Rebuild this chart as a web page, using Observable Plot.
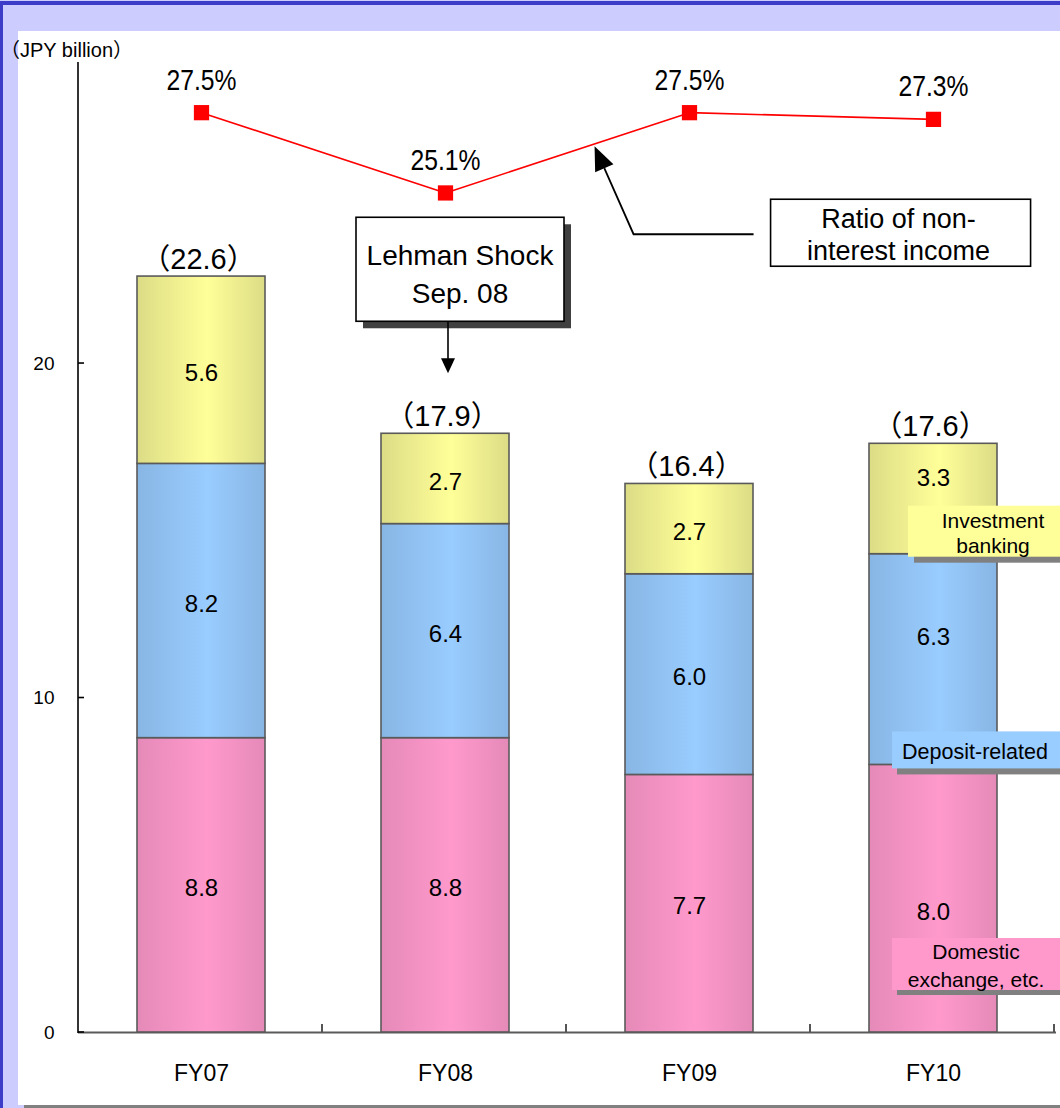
<!DOCTYPE html>
<html>
<head>
<meta charset="utf-8">
<script src="https://cdn.jsdelivr.net/npm/d3@7"></script>
<script src="https://cdn.jsdelivr.net/npm/@observablehq/plot@0.6"></script>
<style>
  html, body { margin: 0; padding: 0; background: #fff; }
  #page { position: relative; width: 1060px; height: 1108px; background: #ccccff; overflow: hidden; }
  #page .edge-top { position: absolute; left: 0; top: 1px; width: 1060px; height: 4px; background: #3c3cc8; }
  #page .edge-left { position: absolute; left: 0; top: 1px; width: 3px; height: 1107px; background: #3c3cc8; }
  #page .sheet { position: absolute; left: 18px; top: 31px; width: 1042px; height: 1074px; background: #fff; }
  #page .foot { position: absolute; left: 24px; top: 1105px; width: 1036px; height: 3px; background: #808080; }
  #chart svg { position: absolute; left: 0; top: 0; }
</style>
</head>
<body>
<div id="page">
  <div class="edge-top"></div>
  <div class="edge-left"></div>
  <div class="sheet"></div>
  <div class="foot"></div>
  <div id="chart"></div>
</div>
<script>
// Fee income by business line (JPY billion) and ratio of non-interest income (%)
const years = ["FY07", "FY08", "FY09", "FY10"];
const segments = ["Domestic exchange, etc.", "Deposit-related", "Investment banking"];
const domestic = [8.8, 8.8, 7.7, 8.0];
const deposit = [8.2, 6.4, 6.0, 6.3];
const investment = [5.6, 2.7, 2.7, 3.3];
const totals = [22.6, 17.9, 16.4, 17.6];
const ratio = [27.5, 25.1, 27.5, 27.3];
const yTicks = [0, 10, 20];

const rows = years.flatMap((year, i) => [
  {year, segment: segments[0], value: domestic[i]},
  {year, segment: segments[1], value: deposit[i]},
  {year, segment: segments[2], value: investment[i]}
]);
const totalRows = years.map((year, i) => ({year, total: totals[i]}));
const ratioRows = years.map((year, i) => ({year, ratio: ratio[i]}));

// FY10 segment labels are nudged to leave room for the series labels
const last = years.length - 1;
const lastYear = years[last];
const lastStack = [
  {year: lastYear, value: domestic[last], mid: domestic[last] / 2},
  {year: lastYear, value: deposit[last], mid: domestic[last] + deposit[last] / 2},
  {year: lastYear, value: investment[last], mid: domestic[last] + deposit[last] + investment[last] / 2}
];
const lastNudge = [14, -22, -21];

const font = `"Liberation Sans", Arial, "Noto Sans CJK JP", sans-serif`;

const chart = Plot.plot({
  width: 1060,
  height: 1108,
  marginLeft: 78,
  marginRight: 4,
  marginTop: 62,
  marginBottom: 76,
  style: {background: "transparent", fontFamily: font, color: "#000", overflow: "hidden"},
  x: {domain: years, paddingInner: 0.476, paddingOuter: 0.238},
  y: {domain: [0, 29]},
  color: {type: "ordinal", domain: segments, range: ["url(#fill-pink)", "url(#fill-blue)", "url(#fill-yellow)"]},
  marks: [
    Plot.axisY({ticks: yTicks, tickSize: 0, tickPadding: 24, fontSize: 19, label: null}),
    Plot.axisX({tickSize: 0, tickPadding: 32, fontSize: 23, label: null}),
    Plot.ruleY([0], {stroke: "#5a5a5a", strokeWidth: 2}),
    Plot.barY(rows, {x: "year", y: "value", fill: "segment", stroke: "#5a5a5a", strokeWidth: 1.6}),
    Plot.text(rows.filter(d => d.year !== lastYear),
      Plot.stackY({x: "year", y: "value", text: d => d.value.toFixed(1), fontSize: 24, dy: 3, fill: "#000"})),
    ...lastStack.map((d, k) => Plot.text([d], {x: "year", y: "mid", text: d => d.value.toFixed(1), fontSize: 24, dy: lastNudge[k], fill: "#000"})),
    Plot.text(totalRows, {x: "year", y: "total", text: d => `（${d.total.toFixed(1)}）`, lineAnchor: "bottom", dy: -8, fontSize: 29, dx: -3, fill: "#000"}),
    Plot.line(ratioRows, {x: "year", y: "ratio", stroke: "#ff0000", strokeWidth: 1.6}),
    Plot.dot(ratioRows, {x: "year", y: "ratio", symbol: "square", r: 8.6, fill: "#ff0000"}),
    Plot.text(ratioRows, {x: "year", y: "ratio", text: d => d.ratio.toFixed(1) + "%", lineAnchor: "bottom", dy: -23, fontSize: 30, fill: "#000", className: "pct-label"})
  ]
});

document.getElementById("chart").appendChild(chart);

const svg = d3.select(chart);
const sx = chart.scale("x"), sy = chart.scale("y");
const cx = c => sx.apply(c) + sx.bandwidth / 2;
const x0 = sx.range[0];
const y0 = sy.apply(0);

// Percentage labels are set in a condensed face
svg.selectAll(".pct-label text").attr("textLength", 70).attr("lengthAdjust", "spacingAndGlyphs");

// Cylindrical shading for the bar segments
const defs = svg.insert("defs", ":first-child");
[["fill-pink", "#e58ab8", "#ff99cc"], ["fill-blue", "#88b6e4", "#99ccff"], ["fill-yellow", "#dcdc86", "#ffff99"]]
  .forEach(([id, edge, mid]) => {
    const g = defs.append("linearGradient").attr("id", id)
      .attr("x1", 0).attr("x2", 1).attr("y1", 0).attr("y2", 0);
    g.append("stop").attr("offset", "0%").attr("stop-color", edge);
    g.append("stop").attr("offset", "55%").attr("stop-color", mid);
    g.append("stop").attr("offset", "100%").attr("stop-color", edge);
  });

const layer = svg.append("g");

// Vertical axis line and inward ticks
layer.append("line").attr("x1", x0).attr("x2", x0)
  .attr("y1", sy.apply(29)).attr("y2", y0 + 1)
  .attr("stroke", "#000").attr("stroke-width", 1.6);
yTicks.forEach(t => {
  layer.append("line").attr("x1", x0).attr("x2", x0 + 6)
    .attr("y1", sy.apply(t)).attr("y2", sy.apply(t))
    .attr("stroke", "#000").attr("stroke-width", 1.6);
});
// Category separators on the baseline
years.forEach((_, i) => {
  const bx = x0 + (i + 1) * sx.step;
  layer.append("line").attr("x1", bx).attr("x2", bx)
    .attr("y1", y0).attr("y2", y0 - 8)
    .attr("stroke", "#555").attr("stroke-width", 2);
});

// Unit label
layer.append("text").attr("x", x0 - 78).attr("y", sy.apply(29) - 5)
  .attr("text-anchor", "start").attr("font-size", 20).attr("fill", "#000")
  .text("（JPY billion）");

function box(x, y, w, h, fill, stroke, shadow, sdx, sdy) {
  if (shadow) layer.append("rect").attr("x", x + sdx).attr("y", y + sdy)
    .attr("width", w).attr("height", h).attr("fill", shadow);
  layer.append("rect").attr("x", x).attr("y", y).attr("width", w).attr("height", h)
    .attr("fill", fill).attr("stroke", stroke || "none").attr("stroke-width", 1.6);
}
function label(x, y, lines, size, gap) {
  lines.forEach((s, i) => {
    layer.append("text").attr("x", x).attr("y", y + i * gap)
      .attr("text-anchor", "middle").attr("font-size", size).attr("fill", "#000").text(s);
  });
}
function arrowHead(tx, ty, ux, uy, len, half) {
  const bx = tx - ux * len, by = ty - uy * len;
  const px = -uy * half, py = ux * half;
  layer.append("path")
    .attr("d", `M${tx},${ty}L${bx + px},${by + py}L${bx - px},${by - py}Z`)
    .attr("fill", "#000");
  return [bx, by];
}

// Lehman Shock callout above FY08
{
  const c = cx("FY08");
  const top = sy.apply(totals[1]);
  box(c + 15 - 104, top - 216, 208, 104, "#fff", "#000", "#404040", 7, 7);
  label(c + 15, top - 168, ["Lehman Shock", "Sep. 08"], 28, 38);
  layer.append("line").attr("x1", c + 3).attr("x2", c + 3)
    .attr("y1", top - 112).attr("y2", top - 72)
    .attr("stroke", "#000").attr("stroke-width", 1.6);
  arrowHead(c + 3, top - 60, 0, 1, 15, 7);
}

// Ratio of non-interest income callout
{
  const ax = cx("FY08"), ay = sy.apply(ratio[1]);
  const bxp = cx("FY09"), byp = sy.apply(ratio[2]);
  const t = 0.613;
  const tx = ax + (bxp - ax) * t, ty = ay + (byp - ay) * t + 3;
  const ex = tx + 39, ey = ty + 88;
  const len = Math.hypot(tx - ex, ty - ey);
  const ux = (tx - ex) / len, uy = (ty - ey) / len;
  const [hx, hy] = arrowHead(tx, ty, ux, uy, 24, 10);
  layer.append("path")
    .attr("d", `M${tx + 159},${ey}L${ex},${ey}L${hx},${hy}`)
    .attr("fill", "none").attr("stroke", "#000").attr("stroke-width", 1.8);
  box(tx + 176, ty + 53, 260, 67, "#fff", "#000");
  label(tx + 304, ty + 82, ["Ratio of non-", "interest income"], 27, 32);
}

// Series labels beside the FY10 bar
{
  const bx = sx.apply(lastYear);
  const inv = sy.apply(domestic[last] + deposit[last]);
  box(bx + 39, inv - 48, 160, 51, "#ffff99", null, "#808080", 6, 6);
  label(bx + 124, inv - 26, ["Investment", "banking"], 21, 25);

  const dep = sy.apply(domestic[last]);
  box(bx + 23, dep - 33, 176, 37, "#99ccff", null, "#808080", 5, 6);
  label(bx + 106, dep - 5, ["Deposit-related"], 21.5, 0);

  box(bx + 23, y0 - 94, 176, 52, "#ff99cc", null, "#808080", 5, 5);
  label(bx + 107, y0 - 73, ["Domestic", "exchange, etc."], 21, 28);
}
</script>
</body>
</html>
